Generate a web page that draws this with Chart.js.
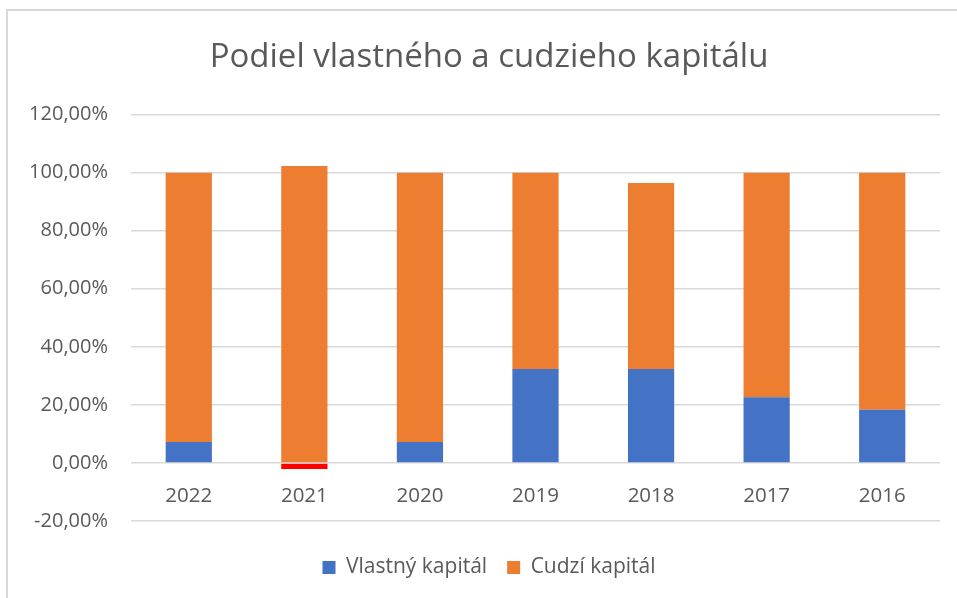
<!DOCTYPE html>
<html>
<head>
<meta charset="utf-8">
<script src="https://cdn.jsdelivr.net/npm/chart.js@4"></script>
<style>
    body { margin: 0; background: #fff; overflow: hidden; }
    #frame { position: absolute; left: 6px; top: 9px; width: 1000px; height: 1000px; border: 2px solid #d9d9d9; }
    #kapital_Chart { position: absolute; left: 0; top: 0; }
</style>
</head>
<body>
<div id="frame"></div>
<canvas id="kapital_Chart" width="978" height="598"></canvas>
<script>
// hodnoty odcitane z grafu (v %)
var roky = ['2022', '2021', '2020', '2019', '2018', '2017', '2016'];
var vlastnyKapital = [7.2, -2.1, 7.2, 32.4, 32.4, 22.6, 18.3];
var cudziKapital = [92.8, 102.3, 92.8, 67.6, 64.0, 77.4, 81.7];
var seriesNames = ['Vlastný kapitál', 'Cudzí kapitál'];

var blue = '#4472C4';
var orange = '#ED7D31';
var red = '#FF0000';
var textColor = '#595959';
var gridColor = '#D9D9D9';

var ctx = document.getElementById('kapital_Chart');

function percentLabel(value) {
    return value.toFixed(2).replace('.', ',') + '%';
}

const renderKapitalChart = () => {
    var myChart = new Chart(ctx, {
        type: 'bar',
        data: {
            labels: roky,
            datasets: [{
                label: seriesNames[0],
                data: vlastnyKapital,
                backgroundColor: vlastnyKapital.map(function (v) { return v < 0 ? red : blue }),
                barPercentage: 0.4,
                categoryPercentage: 1
            }, {
                label: seriesNames[1],
                data: cudziKapital,
                backgroundColor: orange,
                barPercentage: 0.4,
                categoryPercentage: 1
            }]
        },
        options: {
            responsive: false,
            animation: false,
            layout: {
                padding: { left: 0, right: 0, top: 0, bottom: 10 }
            },
            scales: {
                x: {
                    stacked: true,
                    position: { y: 0 },
                    grid: { display: false, drawTicks: false },
                    border: { display: false },
                    ticks: {
                        color: textColor,
                        padding: 21,
                        font: { family: 'Open Sans', size: 20.5 }
                    }
                },
                spacer: {
                    type: 'category',
                    position: 'bottom',
                    labels: roky,
                    grid: { display: false, drawTicks: false },
                    border: { display: false },
                    ticks: { display: false },
                    afterFit: function (scale) { scale.height = 16 }
                },
                y: {
                    stacked: true,
                    min: -20,
                    max: 120,
                    grid: { color: gridColor, lineWidth: 1.5, drawTicks: false },
                    border: { display: false },
                    ticks: {
                        stepSize: 20,
                        color: textColor,
                        padding: 23,
                        font: { family: 'Open Sans', size: 20 },
                        callback: function (value) { return percentLabel(value) }
                    },
                    afterFit: function (scale) { scale.width = 131 }
                },
                spacerRight: {
                    type: 'linear',
                    position: 'right',
                    grid: { display: false, drawTicks: false },
                    border: { display: false },
                    ticks: { display: false },
                    afterFit: function (scale) { scale.width = 38 }
                }
            },
            plugins: {
                title: {
                    display: true,
                    text: 'Podiel vlastného a cudzieho kapitálu',
                    color: textColor,
                    font: { family: 'Open Sans', size: 33, weight: 'normal' },
                    padding: { top: 38, bottom: 37 }
                },
                legend: {
                    position: 'bottom',
                    labels: {
                        color: textColor,
                        boxWidth: 13,
                        boxHeight: 13,
                        padding: 20,
                        font: { family: 'Open Sans', size: 21 }
                    }
                },
                tooltip: { enabled: false }
            }
        }
    });
}

renderKapitalChart()
</script>
</body>
</html>
